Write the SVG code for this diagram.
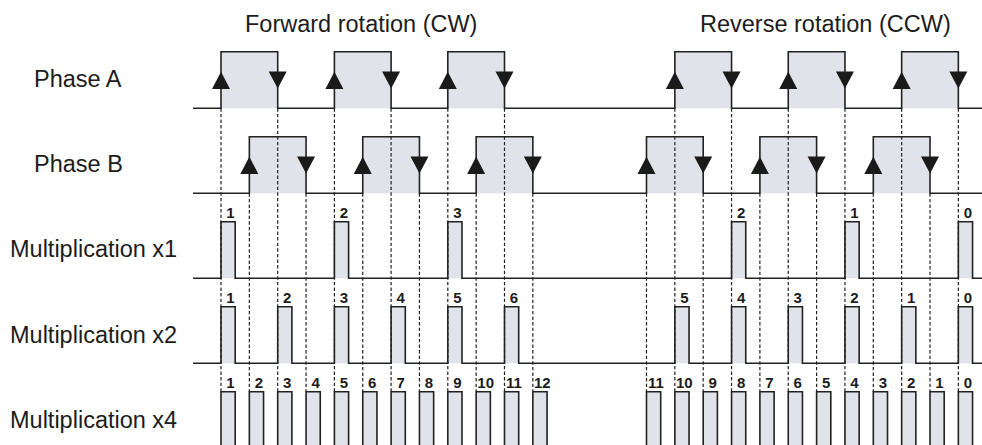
<svg xmlns="http://www.w3.org/2000/svg" width="982" height="445" viewBox="0 0 982 445">
<style>
text{font-family:"Liberation Sans",Arial,Helvetica,sans-serif;fill:#1c1c1c}
.t{font-size:23.5px}
.n{font-size:15px;font-weight:bold;text-anchor:middle}
.fill{fill:#e0e3e9;stroke:none}
.wave{fill:none;stroke:#222;stroke-width:1.6;stroke-linejoin:miter}
.dash{stroke:#222;stroke-width:1.2;stroke-dasharray:3.4 2.2;fill:none}
.arr{fill:#1a1a1a}
</style>
<defs>
<polygon id="up" points="0,-8.6 9,8.6 -9,8.6"/>
<polygon id="dn" points="-9,-8.6 9,-8.6 0,8.6"/>
<rect id="p1" x="0" y="0" width="14.2" height="56.6"/>
<rect id="p4" x="0" y="0" width="14.2" height="60"/>
</defs>

<g id="titles">
<text class="t" x="245" y="31.5">Forward rotation (CW)</text>
<text class="t" x="700" y="31.5">Reverse rotation (CCW)</text>
</g>

<g id="row-labels">
<text class="t" x="34" y="87.3">Phase A</text>
<text class="t" x="34" y="172.3">Phase B</text>
<text class="t" x="10" y="257.3">Multiplication x1</text>
<text class="t" x="10" y="342.5">Multiplication x2</text>
<text class="t" x="10" y="427.5">Multiplication x4</text>
</g>

<g id="fills">
<rect class="fill" x="221" y="51.7" width="56.7" height="56.6"/>
<rect class="fill" x="334.4" y="51.7" width="56.7" height="56.6"/>
<rect class="fill" x="447.8" y="51.7" width="56.7" height="56.6"/>
<rect class="fill" x="674.85" y="51.7" width="56.7" height="56.6"/>
<rect class="fill" x="788.25" y="51.7" width="56.7" height="56.6"/>
<rect class="fill" x="901.65" y="51.7" width="56.7" height="56.6"/>
<rect class="fill" x="249.4" y="136.7" width="56.7" height="56.6"/>
<rect class="fill" x="362.8" y="136.7" width="56.7" height="56.6"/>
<rect class="fill" x="476.2" y="136.7" width="56.7" height="56.6"/>
<rect class="fill" x="646.5" y="136.7" width="56.7" height="56.6"/>
<rect class="fill" x="759.9" y="136.7" width="56.7" height="56.6"/>
<rect class="fill" x="873.3" y="136.7" width="56.7" height="56.6"/>
<g transform="translate(0,221.7)">
<use href="#p1" class="fill" x="221"/><use href="#p1" class="fill" x="334.4"/><use href="#p1" class="fill" x="447.8"/>
<use href="#p1" class="fill" x="731.55"/><use href="#p1" class="fill" x="844.95"/><use href="#p1" class="fill" x="958.35"/>
</g>
<g transform="translate(0,306.7)">
<use href="#p1" class="fill" x="221"/><use href="#p1" class="fill" x="277.7"/><use href="#p1" class="fill" x="334.4"/>
<use href="#p1" class="fill" x="391.1"/><use href="#p1" class="fill" x="447.8"/><use href="#p1" class="fill" x="504.5"/>
<use href="#p1" class="fill" x="674.85"/><use href="#p1" class="fill" x="731.55"/><use href="#p1" class="fill" x="788.25"/>
<use href="#p1" class="fill" x="844.95"/><use href="#p1" class="fill" x="901.65"/><use href="#p1" class="fill" x="958.35"/>
</g>
<g transform="translate(0,391.7)">
<use href="#p4" class="fill" x="221"/><use href="#p4" class="fill" x="249.35"/><use href="#p4" class="fill" x="277.7"/>
<use href="#p4" class="fill" x="306.05"/><use href="#p4" class="fill" x="334.4"/><use href="#p4" class="fill" x="362.75"/>
<use href="#p4" class="fill" x="391.1"/><use href="#p4" class="fill" x="419.45"/><use href="#p4" class="fill" x="447.8"/>
<use href="#p4" class="fill" x="476.15"/><use href="#p4" class="fill" x="504.5"/><use href="#p4" class="fill" x="532.85"/>
<use href="#p4" class="fill" x="646.5"/><use href="#p4" class="fill" x="674.85"/><use href="#p4" class="fill" x="703.2"/>
<use href="#p4" class="fill" x="731.55"/><use href="#p4" class="fill" x="759.9"/><use href="#p4" class="fill" x="788.25"/>
<use href="#p4" class="fill" x="816.6"/><use href="#p4" class="fill" x="844.95"/><use href="#p4" class="fill" x="873.3"/>
<use href="#p4" class="fill" x="901.65"/><use href="#p4" class="fill" x="930"/><use href="#p4" class="fill" x="958.35"/>
</g>
</g>

<g id="connectors">
<path class="dash" d="M221,108.3V391.7M277.7,108.3V391.7M334.4,108.3V391.7M391.1,108.3V391.7M447.8,108.3V391.7M504.5,108.3V391.7M674.85,108.3V391.7M731.55,108.3V391.7M788.25,108.3V391.7M844.95,108.3V391.7M901.65,108.3V391.7M958.35,108.3V391.7"/>
<path class="dash" d="M249.35,193.3V391.7M306.05,193.3V391.7M362.75,193.3V391.7M419.45,193.3V391.7M476.15,193.3V391.7M532.85,193.3V391.7M646.5,193.3V391.7M703.2,193.3V391.7M759.9,193.3V391.7M816.6,193.3V391.7M873.3,193.3V391.7M930,193.3V391.7"/>
</g>

<g id="phase-a">
<path class="wave" d="M193,108.3H221V51.7H277.7V108.3H334.4V51.7H391.1V108.3H447.8V51.7H504.5V108.3H674.85V51.7H731.55V108.3H788.25V51.7H844.95V108.3H901.65V51.7H958.35V108.3H982"/>
<g class="arr">
<use href="#up" x="221" y="80.3"/><use href="#dn" x="277.7" y="80"/>
<use href="#up" x="334.4" y="80.3"/><use href="#dn" x="391.1" y="80"/>
<use href="#up" x="447.8" y="80.3"/><use href="#dn" x="504.5" y="80"/>
<use href="#up" x="674.85" y="80.3"/><use href="#dn" x="731.55" y="80"/>
<use href="#up" x="788.25" y="80.3"/><use href="#dn" x="844.95" y="80"/>
<use href="#up" x="901.65" y="80.3"/><use href="#dn" x="958.35" y="80"/>
</g>
</g>

<g id="phase-b">
<path class="wave" d="M193,193.3H249.35V136.7H306.05V193.3H362.75V136.7H419.45V193.3H476.15V136.7H532.85V193.3H646.5V136.7H703.2V193.3H759.9V136.7H816.6V193.3H873.3V136.7H930V193.3H982"/>
<g class="arr">
<use href="#up" x="249.35" y="165.3"/><use href="#dn" x="306.05" y="165"/>
<use href="#up" x="362.75" y="165.3"/><use href="#dn" x="419.45" y="165"/>
<use href="#up" x="476.15" y="165.3"/><use href="#dn" x="532.85" y="165"/>
<use href="#up" x="646.5" y="165.3"/><use href="#dn" x="703.2" y="165"/>
<use href="#up" x="759.9" y="165.3"/><use href="#dn" x="816.6" y="165"/>
<use href="#up" x="873.3" y="165.3"/><use href="#dn" x="930" y="165"/>
</g>
</g>

<g id="mult-x1">
<path class="wave" d="M193,278.3H221V221.7H235.2V278.3H334.4V221.7H348.6V278.3H447.8V221.7H462V278.3H731.55V221.7H745.75V278.3H844.95V221.7H859.15V278.3H958.35V221.7H972.55V278.3H982"/>
<text class="n" x="230.5" y="217.8">1</text>
<text class="n" x="343.9" y="217.8">2</text>
<text class="n" x="457.3" y="217.8">3</text>
<text class="n" x="741.05" y="217.8">2</text>
<text class="n" x="854.45" y="217.8">1</text>
<text class="n" x="967.85" y="217.8">0</text>
</g>

<g id="mult-x2">
<path class="wave" d="M193,363.3H221V306.7H235.2V363.3H277.7V306.7H291.9V363.3H334.4V306.7H348.6V363.3H391.1V306.7H405.3V363.3H447.8V306.7H462V363.3H504.5V306.7H518.7V363.3H674.85V306.7H689.05V363.3H731.55V306.7H745.75V363.3H788.25V306.7H802.45V363.3H844.95V306.7H859.15V363.3H901.65V306.7H915.85V363.3H958.35V306.7H972.55V363.3H982"/>
<text class="n" x="230.5" y="302.6">1</text>
<text class="n" x="287.2" y="302.6">2</text>
<text class="n" x="343.9" y="302.6">3</text>
<text class="n" x="400.6" y="302.6">4</text>
<text class="n" x="457.3" y="302.6">5</text>
<text class="n" x="514" y="302.6">6</text>
<text class="n" x="684.35" y="302.6">5</text>
<text class="n" x="741.05" y="302.6">4</text>
<text class="n" x="797.75" y="302.6">3</text>
<text class="n" x="854.45" y="302.6">2</text>
<text class="n" x="911.15" y="302.6">1</text>
<text class="n" x="967.85" y="302.6">0</text>
</g>

<g id="mult-x4">
<path class="wave" d="M221,446V391.7H235.2V446M249.35,446V391.7H263.55V446M277.7,446V391.7H291.9V446M306.05,446V391.7H320.25V446M334.4,446V391.7H348.6V446M362.75,446V391.7H376.95V446M391.1,446V391.7H405.3V446M419.45,446V391.7H433.65V446M447.8,446V391.7H462V446M476.15,446V391.7H490.35V446M504.5,446V391.7H518.7V446M532.85,446V391.7H547.05V446M646.5,446V391.7H660.7V446M674.85,446V391.7H689.05V446M703.2,446V391.7H717.4V446M731.55,446V391.7H745.75V446M759.9,446V391.7H774.1V446M788.25,446V391.7H802.45V446M816.6,446V391.7H830.8V446M844.95,446V391.7H859.15V446M873.3,446V391.7H887.5V446M901.65,446V391.7H915.85V446M930,446V391.7H944.2V446M958.35,446V391.7H972.55V446"/>
<text class="n" x="230.5" y="388.3">1</text>
<text class="n" x="258.85" y="388.3">2</text>
<text class="n" x="287.2" y="388.3">3</text>
<text class="n" x="315.55" y="388.3">4</text>
<text class="n" x="343.9" y="388.3">5</text>
<text class="n" x="372.25" y="388.3">6</text>
<text class="n" x="400.6" y="388.3">7</text>
<text class="n" x="428.95" y="388.3">8</text>
<text class="n" x="457.3" y="388.3">9</text>
<text class="n" x="485.65" y="388.3">10</text>
<text class="n" x="514" y="388.3">11</text>
<text class="n" x="542.35" y="388.3">12</text>
<text class="n" x="656" y="388.3">11</text>
<text class="n" x="684.35" y="388.3">10</text>
<text class="n" x="712.7" y="388.3">9</text>
<text class="n" x="741.05" y="388.3">8</text>
<text class="n" x="769.4" y="388.3">7</text>
<text class="n" x="797.75" y="388.3">6</text>
<text class="n" x="826.1" y="388.3">5</text>
<text class="n" x="854.45" y="388.3">4</text>
<text class="n" x="882.8" y="388.3">3</text>
<text class="n" x="911.15" y="388.3">2</text>
<text class="n" x="939.5" y="388.3">1</text>
<text class="n" x="967.85" y="388.3">0</text>
</g>
</svg>
